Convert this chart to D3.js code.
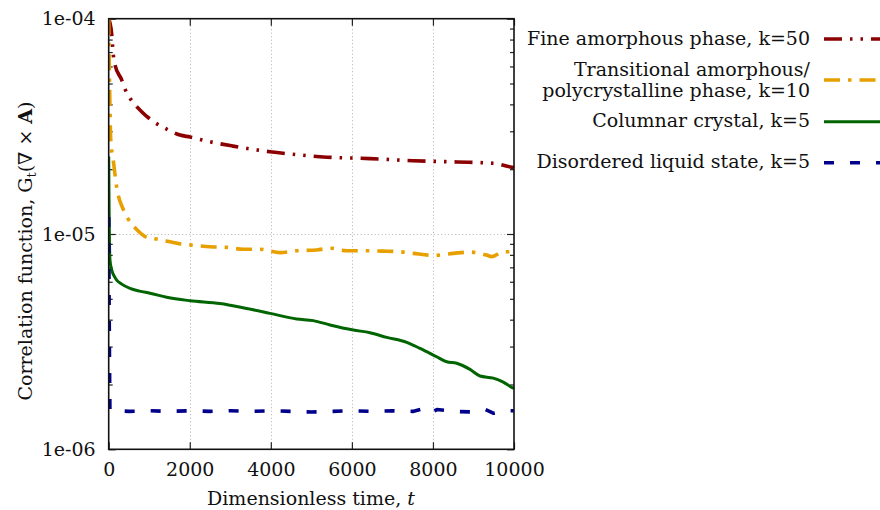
<!DOCTYPE html>
<html>
<head>
<meta charset="utf-8">
<script src="https://cdn.jsdelivr.net/npm/d3@7"></script>
<style>
  html, body { margin: 0; padding: 0; background: #fff; }
  svg { display: block; }
  text { font-family: "DejaVu Serif", serif; fill: #111; }
</style>
</head>
<body>
<svg id="chart" width="880" height="510"></svg>
<script>
// Correlation function G_t(curl A) versus dimensionless time, four phases.

const fineT = [0, 70, 113, 155, 320, 400, 525, 820, 1167, 1390, 1760, 2006, 2500, 3068, 3980, 4600, 5290, 6449, 7508, 8594, 9482, 9950, 10000];
const fineG = [1.0e-4, 8.6e-5, 6.8e-5, 6.1e-5, 5.2e-5, 4.72e-5, 4.28e-5, 3.69e-5, 3.27e-5, 3.10e-5, 2.88e-5, 2.82e-5, 2.68e-5, 2.56e-5, 2.41e-5, 2.34e-5, 2.28e-5, 2.24e-5, 2.19e-5, 2.16e-5, 2.13e-5, 2.04e-5, 2.03e-5];

const transT = [0, 15, 30, 50, 113, 197, 360, 485, 690, 970, 1216, 1513, 1759, 2006, 2499, 2911, 3321, 3733, 4226, 4639, 5132, 5460, 5872, 6282, 6775, 7187, 7515, 8009, 8502, 8914, 9326, 9450, 9736, 10000];
const transG = [1.0e-4, 6.0e-5, 4.0e-5, 2.75e-5, 2.2e-5, 1.65e-5, 1.3e-5, 1.17e-5, 1.05e-5, 9.6e-6, 9.45e-6, 9.2e-6, 9.0e-6, 8.9e-6, 8.73e-6, 8.67e-6, 8.49e-6, 8.49e-6, 8.19e-6, 8.36e-6, 8.43e-6, 8.59e-6, 8.36e-6, 8.36e-6, 8.33e-6, 8.27e-6, 8.13e-6, 7.96e-6, 8.13e-6, 8.24e-6, 7.98e-6, 7.85e-6, 8.27e-6, 8.27e-6];

const colT = [0, 10, 20, 32, 74, 130, 197, 320, 525, 760, 1019, 1431, 2006, 2746, 3405, 3980, 4639, 5048, 5460, 6035, 6447, 6859, 7353, 7681, 8093, 8339, 8586, 8914, 9161, 9489, 9736, 9943, 10000];
const colG = [2.29e-5, 1.29e-5, 8.9e-6, 7.56e-6, 6.81e-6, 6.4e-6, 6.11e-6, 5.85e-6, 5.59e-6, 5.43e-6, 5.31e-6, 5.08e-6, 4.90e-6, 4.76e-6, 4.51e-6, 4.28e-6, 4.03e-6, 3.96e-6, 3.78e-6, 3.58e-6, 3.48e-6, 3.31e-6, 3.14e-6, 2.94e-6, 2.69e-6, 2.55e-6, 2.51e-6, 2.35e-6, 2.19e-6, 2.14e-6, 2.05e-6, 1.94e-6, 1.92e-6];

const liqT = [0, 10, 20, 30, 200, 500, 1000, 1500, 2000, 2500, 3000, 3500, 4000, 4500, 5000, 5500, 6000, 6500, 7000, 7500, 7800, 7950, 8100, 8500, 9000, 9300, 9500, 9800, 10000];
const liqG = [1.2e-5, 5.0e-6, 2.5e-6, 1.52e-6, 1.51e-6, 1.50e-6, 1.51e-6, 1.50e-6, 1.51e-6, 1.50e-6, 1.51e-6, 1.50e-6, 1.51e-6, 1.50e-6, 1.49e-6, 1.50e-6, 1.51e-6, 1.50e-6, 1.51e-6, 1.50e-6, 1.55e-6, 1.48e-6, 1.53e-6, 1.50e-6, 1.49e-6, 1.53e-6, 1.47e-6, 1.51e-6, 1.51e-6];

const seriesNames = ["Fine amorphous phase, k=50", "Transitional amorphous/|polycrystalline phase, k=10", "Columnar crystal, k=5", "Disordered liquid state, k=5"];

const xTickValues = [0, 2000, 4000, 6000, 8000, 10000];
const xTickLabels = ["0", "2000", "4000", "6000", "8000", "10000"];
const yTickValues = [1e-6, 1e-5, 1e-4];
const yTickLabels = ["1e-06", "1e-05", "1e-04"];

const series = [
  { name: seriesNames[0], t: fineT, g: fineG, color: "#8b0000", width: 3.6, dash: "18,8,2.5,8,2.5,8", smooth: true },
  { name: seriesNames[1], t: transT, g: transG, color: "#e8a000", width: 3.6, dash: "16,8,3.5,8", smooth: true },
  { name: seriesNames[2], t: colT, g: colG, color: "#006400", width: 3, dash: null, smooth: true },
  { name: seriesNames[3], t: liqT, g: liqG, color: "#00008b", width: 3.6, dash: "10,16", smooth: false }
];

const FS = "19px";
const svg = d3.select("#chart");
const L = 108.7, R = 514, T = 18.7, B = 449.3;

const x = d3.scaleLinear().domain([0, 10000]).range([L, R]);
const y = d3.scaleLog().domain([1e-6, 1e-4]).range([B, T]);

// grid
const grid = svg.append("g").attr("stroke", "#b0b0b0").attr("stroke-width", 1).attr("stroke-dasharray", "1,2.5");
grid.selectAll("line.gx").data(xTickValues.slice(1, -1)).join("line")
  .attr("x1", d => Math.round(x(d)) + 0.5).attr("x2", d => Math.round(x(d)) + 0.5)
  .attr("y1", T).attr("y2", B);
grid.selectAll("line.gy").data([1e-5]).join("line")
  .attr("y1", d => Math.round(y(d)) + 0.5).attr("y2", d => Math.round(y(d)) + 0.5)
  .attr("x1", L).attr("x2", R);

// minor log ticks
const minor = [];
[1e-6, 1e-5].forEach(dec => { for (let k = 2; k <= 9; k++) minor.push(k * dec); });

function styleAxis(g) {
  g.select(".domain").remove();
  g.selectAll(".tick line").attr("stroke", "#222").attr("stroke-width", 1.2);
  g.selectAll(".tick text").style("font-family", "DejaVu Serif, serif").style("font-size", FS).attr("fill", "#111");
}

svg.append("g").attr("transform", `translate(0,${B})`)
  .call(d3.axisBottom(x).tickValues(xTickValues).tickSizeInner(-7).tickSizeOuter(0).tickPadding(13)
    .tickFormat((d, i) => xTickLabels[i]))
  .call(styleAxis);
svg.append("g").attr("transform", `translate(0,${T})`)
  .call(d3.axisTop(x).tickValues(xTickValues).tickSizeInner(-7).tickSizeOuter(0).tickFormat(""))
  .call(styleAxis);
svg.append("g").attr("transform", `translate(${L},0)`)
  .call(d3.axisLeft(y).tickValues(yTickValues).tickSizeInner(-7).tickSizeOuter(0).tickPadding(13)
    .tickFormat((d, i) => yTickLabels[i]))
  .call(styleAxis);
svg.append("g").attr("transform", `translate(${L},0)`)
  .call(d3.axisLeft(y).tickValues(minor).tickSizeInner(-4).tickSizeOuter(0).tickFormat(""))
  .call(styleAxis);
svg.append("g").attr("transform", `translate(${R},0)`)
  .call(d3.axisRight(y).tickValues(yTickValues).tickSizeInner(-7).tickSizeOuter(0).tickFormat(""))
  .call(styleAxis);
svg.append("g").attr("transform", `translate(${R},0)`)
  .call(d3.axisRight(y).tickValues(minor).tickSizeInner(-4).tickSizeOuter(0).tickFormat(""))
  .call(styleAxis);

// curves
svg.append("clipPath").attr("id", "plotclip").append("rect")
  .attr("x", L).attr("y", T - 2).attr("width", R - L + 1).attr("height", B - T + 4);

const curves = svg.append("g").attr("clip-path", "url(#plotclip)");
series.forEach(s => {
  const line = d3.line().x(d => x(d[0])).y(d => y(d[1]))
    .curve(s.smooth ? d3.curveMonotoneX : d3.curveLinear);
  curves.append("path")
    .datum(s.t.map((t, j) => [t, s.g[j]]))
    .attr("d", line)
    .attr("fill", "none")
    .attr("stroke", s.color)
    .attr("stroke-width", s.width)
    .attr("stroke-linejoin", "round")
    .attr("stroke-dasharray", s.dash);
});

// frame
svg.append("rect").attr("x", L).attr("y", T).attr("width", R - L).attr("height", B - T)
  .attr("fill", "none").attr("stroke", "#111").attr("stroke-width", 1.6);

// legend
const legendRows = [
  { lines: [seriesNames[0]], baselines: [45], lineY: 39 },
  { lines: seriesNames[1].split("|"), baselines: [76, 96.7], lineY: 80 },
  { lines: [seriesNames[2]], baselines: [126.7], lineY: 121.7 },
  { lines: [seriesNames[3]], baselines: [168.3], lineY: 162.7 }
];
const legend = svg.append("g");
legendRows.forEach((row, i) => {
  const s = series[i];
  row.lines.forEach((txt, k) => {
    legend.append("text").attr("x", 810).attr("y", row.baselines[k])
      .attr("text-anchor", "end").style("font-size", FS).text(txt);
  });
  legend.append("line").attr("x1", 824).attr("x2", 900)
    .attr("y1", row.lineY).attr("y2", row.lineY)
    .attr("stroke", s.color).attr("stroke-width", s.width)
    .attr("stroke-dasharray", s.dash);
});

// axis titles
const xt = svg.append("text").attr("x", 311).attr("y", 505).attr("text-anchor", "middle").style("font-size", FS);
xt.append("tspan").text("Dimensionless time, ");
xt.append("tspan").attr("font-style", "italic").text("t");

const yt = svg.append("text").attr("transform", "translate(32,251) rotate(-90)")
  .attr("text-anchor", "middle").style("font-size", FS);
yt.append("tspan").text("Correlation function, G");
yt.append("tspan").attr("dy", 4).style("font-size", "13px").text("t");
yt.append("tspan").attr("dy", -4).text("(\u2207 \u00d7 ");
yt.append("tspan").attr("font-weight", "bold").text("A");
yt.append("tspan").text(")");
</script>
</body>
</html>
